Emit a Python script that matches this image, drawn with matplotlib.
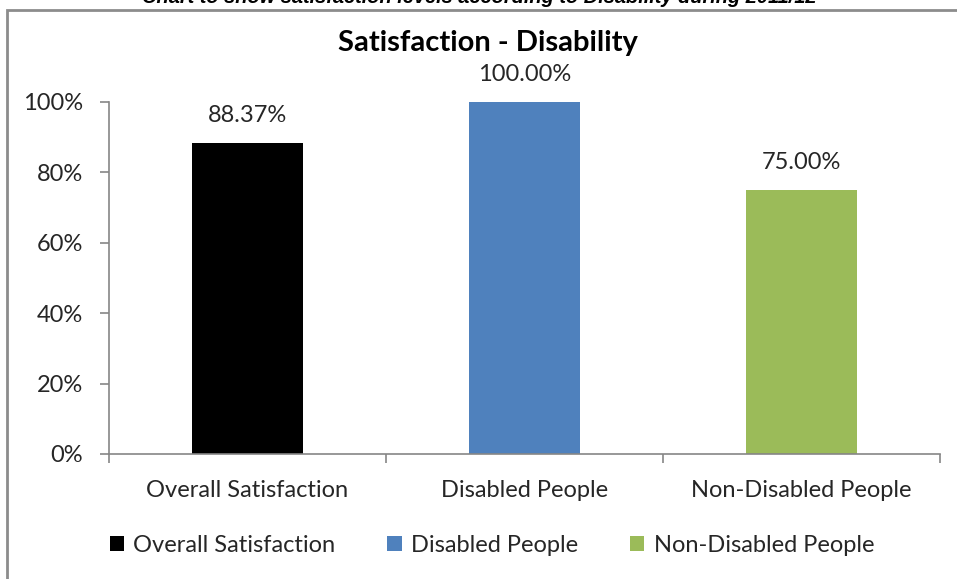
import matplotlib
matplotlib.use("Agg")
import matplotlib.pyplot as plt
from matplotlib.patches import Rectangle, Patch

categories = ["Overall Satisfaction", "Disabled People", "Non-Disabled People"]
values = [88.37, 100.00, 75.00]
colors = ["#000000", "#4F81BD", "#9BBB59"]
ytick_vals = [0, 20, 40, 60, 80, 100]
ytick_labels = ["0%", "20%", "40%", "60%", "80%", "100%"]

W, H = 957, 579
fig = plt.figure(figsize=(W / 100, H / 100), dpi=100)
fig.patch.set_facecolor("white")

FONT = "Lato"
FS = 17
AX_GRAY = "#868686"
TXT = "#262626"

# outer chart frame
fig.patches.append(Rectangle((7 / W, -0.02), 1.0, 1 - 10 / H + 0.02,
                             transform=fig.transFigure, fill=False,
                             edgecolor="#8C8C8C", linewidth=2.0))

# heading above the chart frame
fig.text(479 / W, 1 - 3 / H,
         "Chart to show satisfaction levels according to Disability during 2011/12",
         ha="center", va="baseline", fontsize=14.4, fontweight="bold",
         fontstyle="italic", family="Liberation Sans", color="black")

left, right = 109 / W, 940 / W
bottom, top = 1 - 454 / H, 1 - 102 / H
ax = fig.add_axes([left, bottom, right - left, top - bottom])

x = list(range(len(categories)))
bars = ax.bar(x, values, width=0.4, color=colors, label=categories, zorder=2)

ax.set_xlim(-0.5, len(categories) - 0.5)
ax.set_ylim(0, 100)

for xi, v in zip(x, values):
    ax.annotate(f"{v:.2f}%", (xi, v), xytext=(0, 19.5), textcoords="offset points",
                ha="center", va="center", fontsize=FS, family=FONT, color=TXT)

for s in ["top", "right"]:
    ax.spines[s].set_visible(False)
for s in ["left", "bottom"]:
    ax.spines[s].set_color(AX_GRAY)
    ax.spines[s].set_linewidth(1.2)

ax.set_yticks(ytick_vals)
ax.set_yticklabels(ytick_labels, fontsize=FS, family=FONT, color=TXT)
ax.tick_params(axis="y", length=6.5, width=1.2, color=AX_GRAY, pad=12)

ax.set_xticks([i - 0.5 for i in range(len(categories) + 1)])
ax.set_xticklabels([])
ax.tick_params(axis="x", which="major", length=6.5, width=1.2, color=AX_GRAY)
ax.set_xticks(x, minor=True)
ax.set_xticklabels(categories, minor=True, fontsize=FS, family=FONT, color=TXT)
ax.tick_params(axis="x", which="minor", length=0, pad=19)

fig.text(488 / W, 1 - 43 / H, "Satisfaction - Disability", ha="center", va="center",
         fontsize=21, fontweight="bold", family=FONT, color="black")

handles = [Patch(facecolor=c, edgecolor="none") for c in colors]
fig.legend(handles, categories, loc="center", bbox_to_anchor=(492 / W, 1 - 545 / H),
           ncol=3, frameon=False, prop={"family": FONT, "size": FS},
           handlelength=0.6, handleheight=0.6, handletextpad=0.4,
           columnspacing=2.2, labelcolor=TXT)

fig.savefig("out.png", dpi=100, facecolor="white")
